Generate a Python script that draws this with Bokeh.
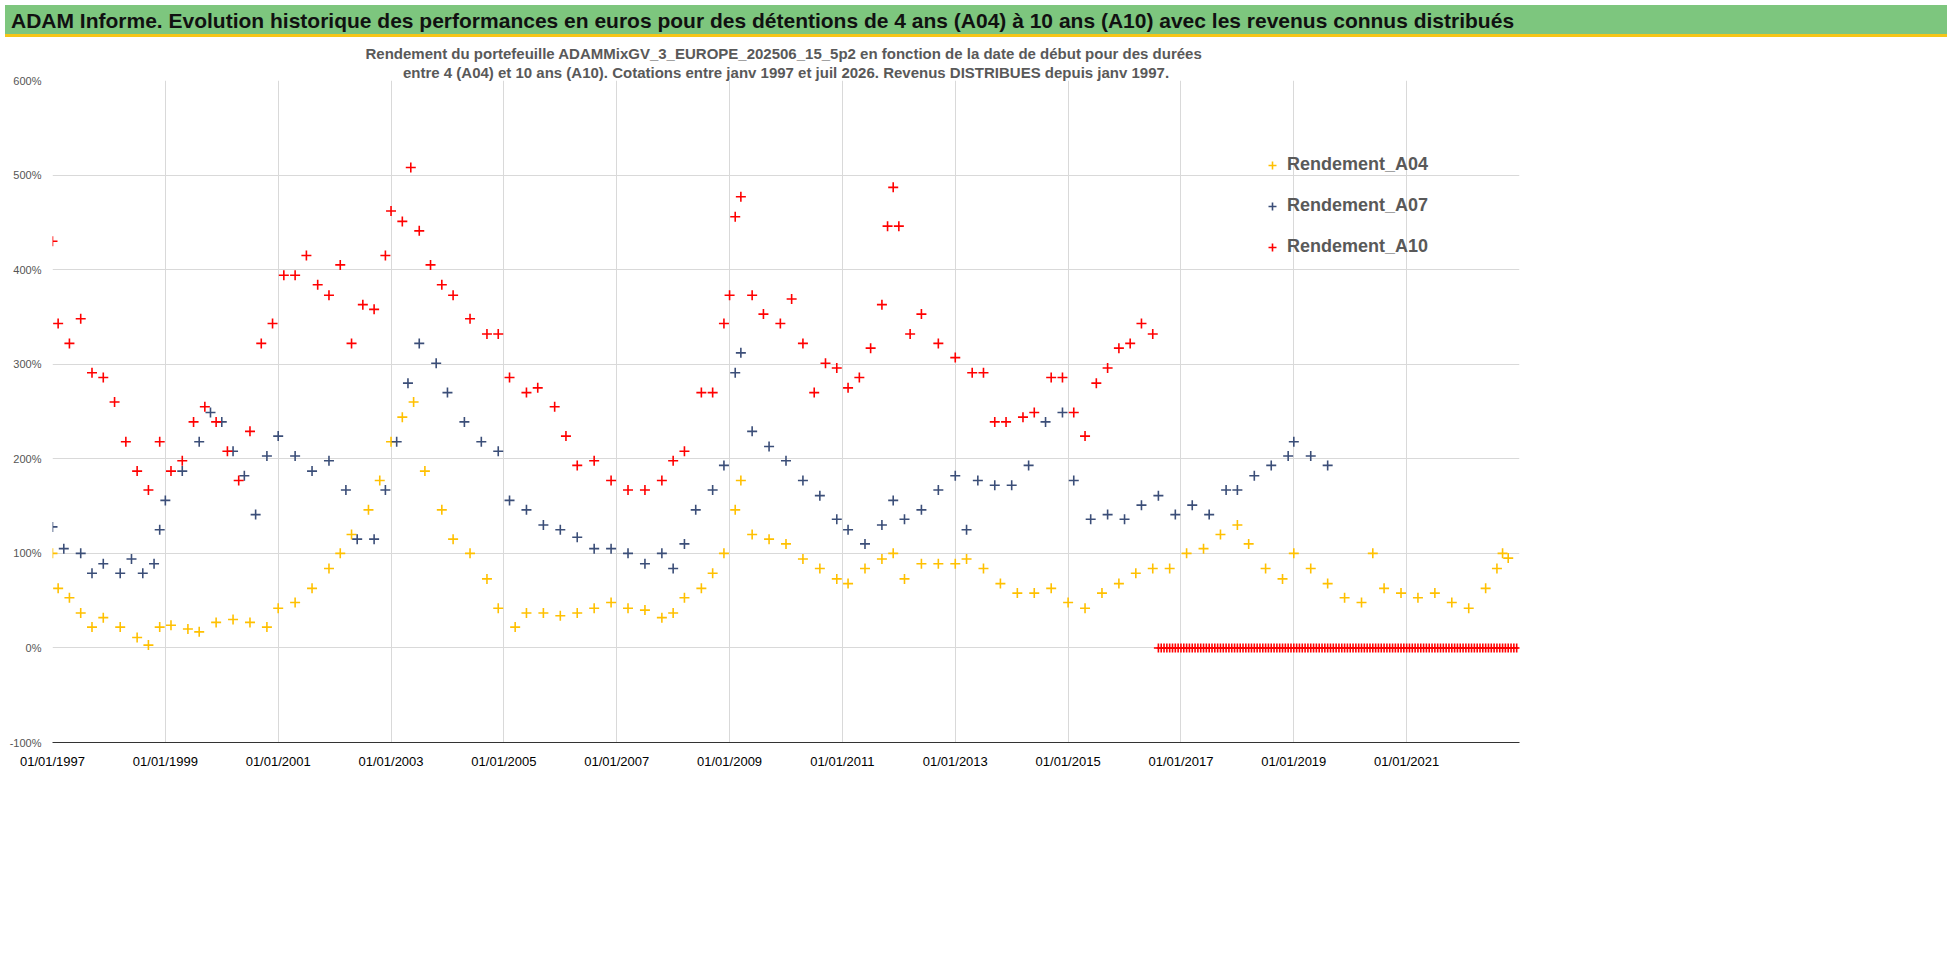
from bokeh.plotting import figure
from bokeh.models import Div, Legend, LegendItem, Title, FixedTicker, Range1d
from bokeh.layouts import column
from bokeh.embed import file_html
from bokeh.resources import INLINE

# decimal years and returns (%)
a04_x = [1997.0,1997.1,1997.3,1997.5,1997.7,1997.9,1998.2,1998.5,1998.7,1998.9,1999.1,1999.4,1999.6,1999.9,2000.2,2000.5,2000.8,2001.0,2001.3,2001.6,2001.9,2002.1,2002.3,2002.6,2002.8,2003.0,2003.2,2003.4,2003.6,2003.9,2004.1,2004.4,2004.7,2004.9,2005.2,2005.4,2005.7,2006.0,2006.3,2006.6,2006.9,2007.2,2007.5,2007.8,2008.0,2008.2,2008.5,2008.7,2008.9,2009.1,2009.2,2009.4,2009.7,2010.0,2010.3,2010.6,2010.9,2011.1,2011.4,2011.7,2011.9,2012.1,2012.4,2012.7,2013.0,2013.2,2013.5,2013.8,2014.1,2014.4,2014.7,2015.0,2015.3,2015.6,2015.9,2016.2,2016.5,2016.8,2017.1,2017.4,2017.7,2018.0,2018.2,2018.5,2018.8,2019.0,2019.3,2019.6,2019.9,2020.2,2020.4,2020.6,2020.9,2021.2,2021.5,2021.8,2022.1,2022.4,2022.6,2022.7,2022.8]
a04_y = [100,63,53,37,22,32,22,11,3,22,24,20,17,27,30,27,22,42,48,63,84,100,120,146,177,218,244,260,187,146,115,100,73,42,22,37,37,34,37,42,48,42,40,32,37,53,63,79,100,146,177,120,115,110,94,84,73,68,84,94,100,73,89,89,89,94,84,68,58,58,63,48,42,58,68,79,84,84,100,105,120,130,110,84,73,100,84,68,53,48,100,63,58,53,58,48,42,63,84,100,95]

a07_x = [1997.0,1997.2,1997.5,1997.7,1997.9,1998.2,1998.4,1998.6,1998.8,1998.9,1999.0,1999.3,1999.6,1999.8,2000.0,2000.2,2000.4,2000.6,2000.8,2001.0,2001.3,2001.6,2001.9,2002.2,2002.4,2002.7,2002.9,2003.1,2003.3,2003.5,2003.8,2004.0,2004.3,2004.6,2004.9,2005.1,2005.4,2005.7,2006.0,2006.3,2006.6,2006.9,2007.2,2007.5,2007.8,2008.0,2008.2,2008.4,2008.7,2008.9,2009.1,2009.2,2009.4,2009.7,2010.0,2010.3,2010.6,2010.9,2011.1,2011.4,2011.7,2011.9,2012.1,2012.4,2012.7,2013.0,2013.2,2013.4,2013.7,2014.0,2014.3,2014.6,2014.9,2015.1,2015.4,2015.7,2016.0,2016.3,2016.6,2016.9,2017.2,2017.5,2017.8,2018.0,2018.3,2018.6,2018.9,2019.0,2019.3,2019.6]
a07_y = [128,105,100,79,89,79,94,79,89,125,156,187,218,249,239,208,182,141,203,224,203,187,198,167,115,115,167,218,280,322,301,270,239,218,208,156,146,130,125,117,105,105,100,89,100,84,110,146,167,193,291,312,229,213,198,177,161,136,125,110,130,156,136,146,167,182,125,177,172,172,193,239,249,177,136,141,136,151,161,141,151,141,167,167,182,193,203,218,203,193]

a10_x = [1997.0,1997.1,1997.3,1997.5,1997.7,1997.9,1998.1,1998.3,1998.5,1998.7,1998.9,1999.1,1999.3,1999.5,1999.7,1999.9,2000.1,2000.3,2000.5,2000.7,2000.9,2001.1,2001.3,2001.5,2001.7,2001.9,2002.1,2002.3,2002.5,2002.7,2002.9,2003.0,2003.2,2003.35,2003.5,2003.7,2003.9,2004.1,2004.4,2004.7,2004.9,2005.1,2005.4,2005.6,2005.9,2006.1,2006.3,2006.6,2006.9,2007.2,2007.5,2007.8,2008.0,2008.2,2008.5,2008.7,2008.9,2009.0,2009.1,2009.2,2009.4,2009.6,2009.9,2010.1,2010.3,2010.5,2010.7,2010.9,2011.1,2011.3,2011.5,2011.7,2011.8,2011.9,2012.0,2012.2,2012.4,2012.7,2013.0,2013.3,2013.5,2013.7,2013.9,2014.2,2014.4,2014.7,2014.9,2015.1,2015.3,2015.5,2015.7,2015.9,2016.1,2016.3,2016.5]
a10_y = [430,343,322,348,291,286,260,218,187,167,218,187,198,239,255,239,208,177,229,322,343,394,394,415,384,373,405,322,363,358,415,462,451,508,441,405,384,373,348,332,332,286,270,275,255,224,193,198,177,167,167,177,198,208,270,270,343,373,456,477,373,353,343,369,322,270,301,296,275,286,317,363,446,487,446,332,353,322,307,291,291,239,239,244,249,286,286,249,224,280,296,317,322,343,332]

zero_x = [2016.6 + i * 0.05 for i in range(128)]
zero_y = [0] * 128

year_ticks = list(range(1997, 2023, 2))
tick_labels = {y: "01/01/%d" % y for y in year_ticks}
subtitle = ["Rendement du portefeuille ADAMMixGV_3_EUROPE_202506_15_5p2  en fonction de la date de début pour des durées",
            "entre 4 (A04) et 10 ans (A10). Cotations entre janv 1997 et juil 2026. Revenus DISTRIBUES depuis janv 1997."]

title = Div(text="ADAM Informe. Evolution historique des performances en euros pour des détentions de 4 ans (A04) à 10 ans (A10) avec les revenus connus distribués",
            width=1942, height=32,
            styles={"background-color": "#7DC67E", "font-family": "Liberation Sans", "font-weight": "bold",
                    "font-size": "21px", "color": "#111", "padding-left": "6px", "line-height": "32px",
                    "border-bottom": "3px solid #F5C518"})

p = figure(width=1942, height=920, output_backend="svg", toolbar_location=None,
           x_range=Range1d(1997, 2023), y_range=Range1d(-100, 600),
           min_border_left=52, min_border_right=423, min_border_top=4, min_border_bottom=220)
p.outline_line_color = None
for t in reversed(subtitle):
    p.add_layout(Title(text=t, align="center", text_font_size="15px", text_font_style="bold",
                       text_color="#595959", text_font="Liberation Sans", standoff=0), "above")
p.xaxis.ticker = FixedTicker(ticks=year_ticks)
p.xaxis.major_label_overrides = tick_labels
p.xaxis.major_label_text_font_size = "13px"
p.xaxis.major_label_text_color = "#000"
p.xaxis.major_tick_line_color = None
p.xaxis.axis_line_color = "#333"
p.yaxis.ticker = FixedTicker(ticks=list(range(-100, 601, 100)))
p.yaxis.major_label_overrides = {v: "%d%%" % v for v in range(-100, 601, 100)}
p.yaxis.major_label_text_font_size = "11px"
p.yaxis.major_label_text_color = "#555"
p.yaxis.axis_line_color = None
p.yaxis.major_tick_line_color = None
p.yaxis.minor_tick_line_color = None
p.xaxis.minor_tick_line_color = None
p.grid.grid_line_color = "#D9D9D9"

r4 = p.scatter(a04_x, a04_y, marker="cross", size=10, line_width=1.6, color="#FFC000")
r7 = p.scatter(a07_x, a07_y, marker="cross", size=10, line_width=1.6, color="#3B4E78")
r10 = p.scatter(a10_x, a10_y, marker="cross", size=10, line_width=1.6, color="#FF0000")
p.scatter(zero_x, zero_y, marker="cross", size=9, line_width=1.6, color="#FF0000")

leg = Legend(items=[LegendItem(label="Rendement_A04", renderers=[r4]),
                    LegendItem(label="Rendement_A07", renderers=[r7]),
                    LegendItem(label="Rendement_A10", renderers=[r10])],
             location=(1210, 485), label_text_font_size="18px", label_text_font_style="bold",
             label_text_color="#595959", border_line_color=None, background_fill_alpha=0,
             spacing=20, glyph_width=20)
p.add_layout(leg)

open("out.html", "w").write(file_html(column(title, p, spacing=0), INLINE))
